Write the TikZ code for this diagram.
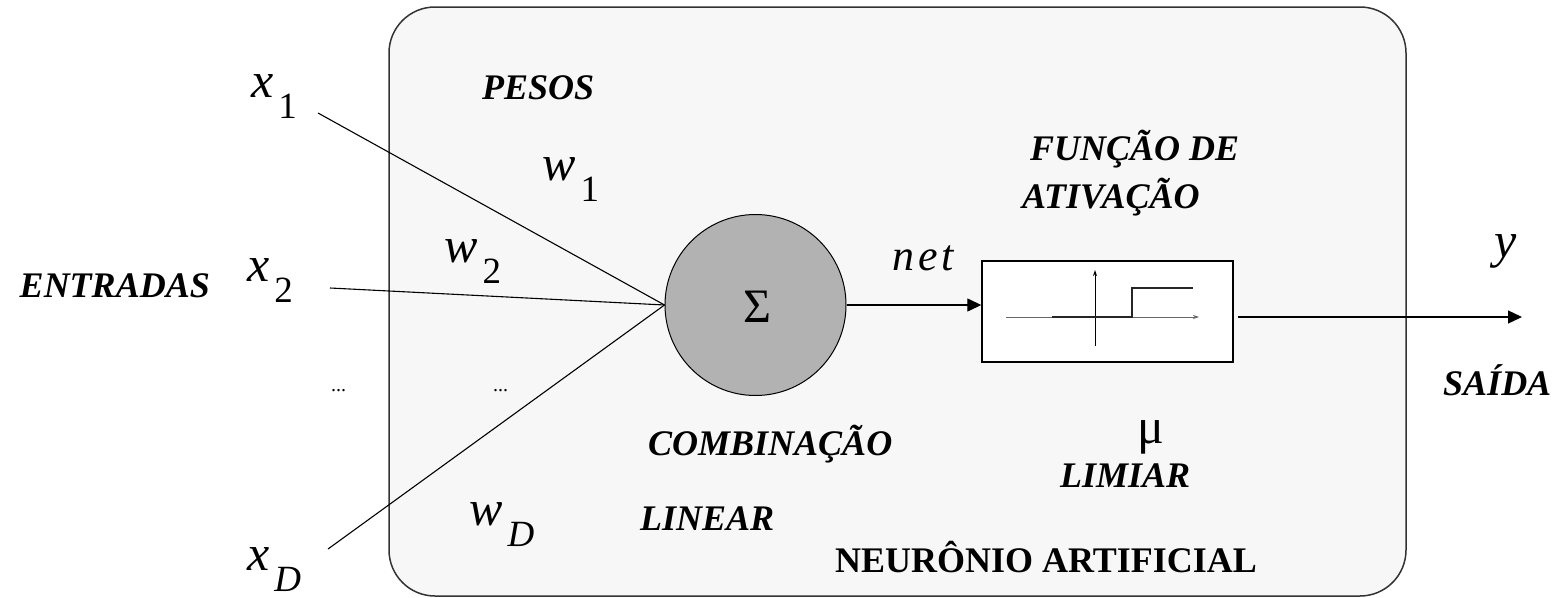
\documentclass[tikz,border=0pt]{standalone}
\usepackage{fontspec}
\setmainfont{Liberation Serif}[
  UprightFont=*,
  BoldFont=* Bold,
  ItalicFont=* Italic,
  BoldItalicFont=* Bold Italic]
\usetikzlibrary{arrows.meta}
\definecolor{panel}{HTML}{F7F7F7}
\definecolor{somafill}{HTML}{B2B2B2}
\definecolor{panelline}{HTML}{333333}
% bold italic caption labels
\newcommand\lbl{\fontsize{36}{40}\selectfont\bfseries\itshape}
% italic symbol with a large, lowered index
\newcommand\symidx[2]{{\fontsize{50}{54}\selectfont\itshape #1}\hspace{5pt}\raisebox{-21pt}{\fontsize{37}{40}\selectfont #2}}
\tikzset{
  txt/.style={inner sep=0pt, anchor=base west},
  wire/.style={line width=1.1pt, black},
  flow/.style={line width=1.3pt, black, -{Triangle[length=14pt, width=13pt]}},
}
\begin{document}
\begin{tikzpicture}[x=1pt, y=-1pt]
\useasboundingbox (0,0) rectangle (1568,597);

% neuron panel
\node[draw=panelline, fill=panel, line width=1.5pt, rounded corners=46pt,
      minimum width=1017pt, minimum height=589pt, inner sep=0pt]
  (neuron) at (897.5,301.5) {};

% summation unit
\node[circle, draw, fill=somafill, line width=1pt, minimum size=181pt, inner sep=0pt]
  (soma) at (755.5,305) {};
\node[txt, anchor=base] (sigma) at (757,322) {\fontsize{48}{52}\selectfont Σ};

% activation block
\node[draw, fill=white, line width=1.4pt, minimum width=251pt, minimum height=101pt, inner sep=0pt]
  (act) at (1107.5,311.5) {};

% step function inside the block
\draw[line width=0.9pt, gray!80!black, -{Stealth[length=6pt, width=4pt]}] (1006,317) -- (1199,317);
\draw[line width=1pt, black, -{Stealth[length=6pt, width=4pt]}] (1095,346) -- (1095,270);
\draw[line width=1.6pt, black!85] (1052,317) -- (1132,317) -- (1132,288) -- (1193,288);

% inputs
\coordinate (in1) at (318,113);
\coordinate (in2) at (330,288);
\coordinate (inD) at (328,549);
\draw[wire] (in1) -- (soma.west);
\draw[wire] (in2) -- (soma.west);
\draw[wire] (inD) -- (soma.west);

% net and output connectors
\draw[flow] (soma.east) -- (act.west |- soma.east);
\coordinate (outstart) at (1238,317);
\coordinate (outend) at (1522,317);
\draw[flow] (outstart) -- (outend);

% symbols
\node[txt] (x1) at (251,97) {\symidx{x}{1}};
\node[txt] (x2) at (247,281) {\symidx{x}{2}};
\node[txt] (xD) at (247,570) {\symidx{x}{\textit{D}}};
\node[txt] (w1) at (542,180) {\symidx{w}{1}};
\node[txt] (w2) at (444,262) {\symidx{w}{2}};
\node[txt] (wD) at (469,525) {\symidx{w}{\textit{D}}};
\node[txt] (net) at (892,270) {\fontsize{44}{48}\selectfont\itshape n\hspace{4pt}e\hspace{4pt}t};
\node[txt] (yout) at (1494,257) {\fontsize{50}{54}\selectfont\itshape y};
\node[txt] (mu) at (1137,443) {\fontsize{50}{54}\selectfont μ};
\node[txt] (dots1) at (331,391) {\fontsize{20}{24}\selectfont ...};
\node[txt] (dots2) at (493,391) {\fontsize{20}{24}\selectfont ...};

% captions
\node[txt, anchor=base east] (entradas) at (210,297) {\lbl ENTRADAS};
\node[txt] (pesos) at (482,99) {\lbl PESOS};
\node[txt] (funcao) at (1030,160) {\lbl FUNÇÃO DE};
\node[txt] (ativacao) at (1022,208) {\lbl ATIVAÇÃO};
\node[txt] (saida) at (1443,395) {\lbl SAÍDA};
\node[txt] (comb) at (648,455) {\lbl COMBINAÇÃO};
\node[txt] (linear) at (640,530) {\lbl LINEAR};
\node[txt] (limiar) at (1060,487) {\lbl LIMIAR};
\node[txt] (title) at (835,572) {\fontsize{36}{40}\selectfont\bfseries NEURÔNIO ARTIFICIAL};
\end{tikzpicture}
\end{document}
